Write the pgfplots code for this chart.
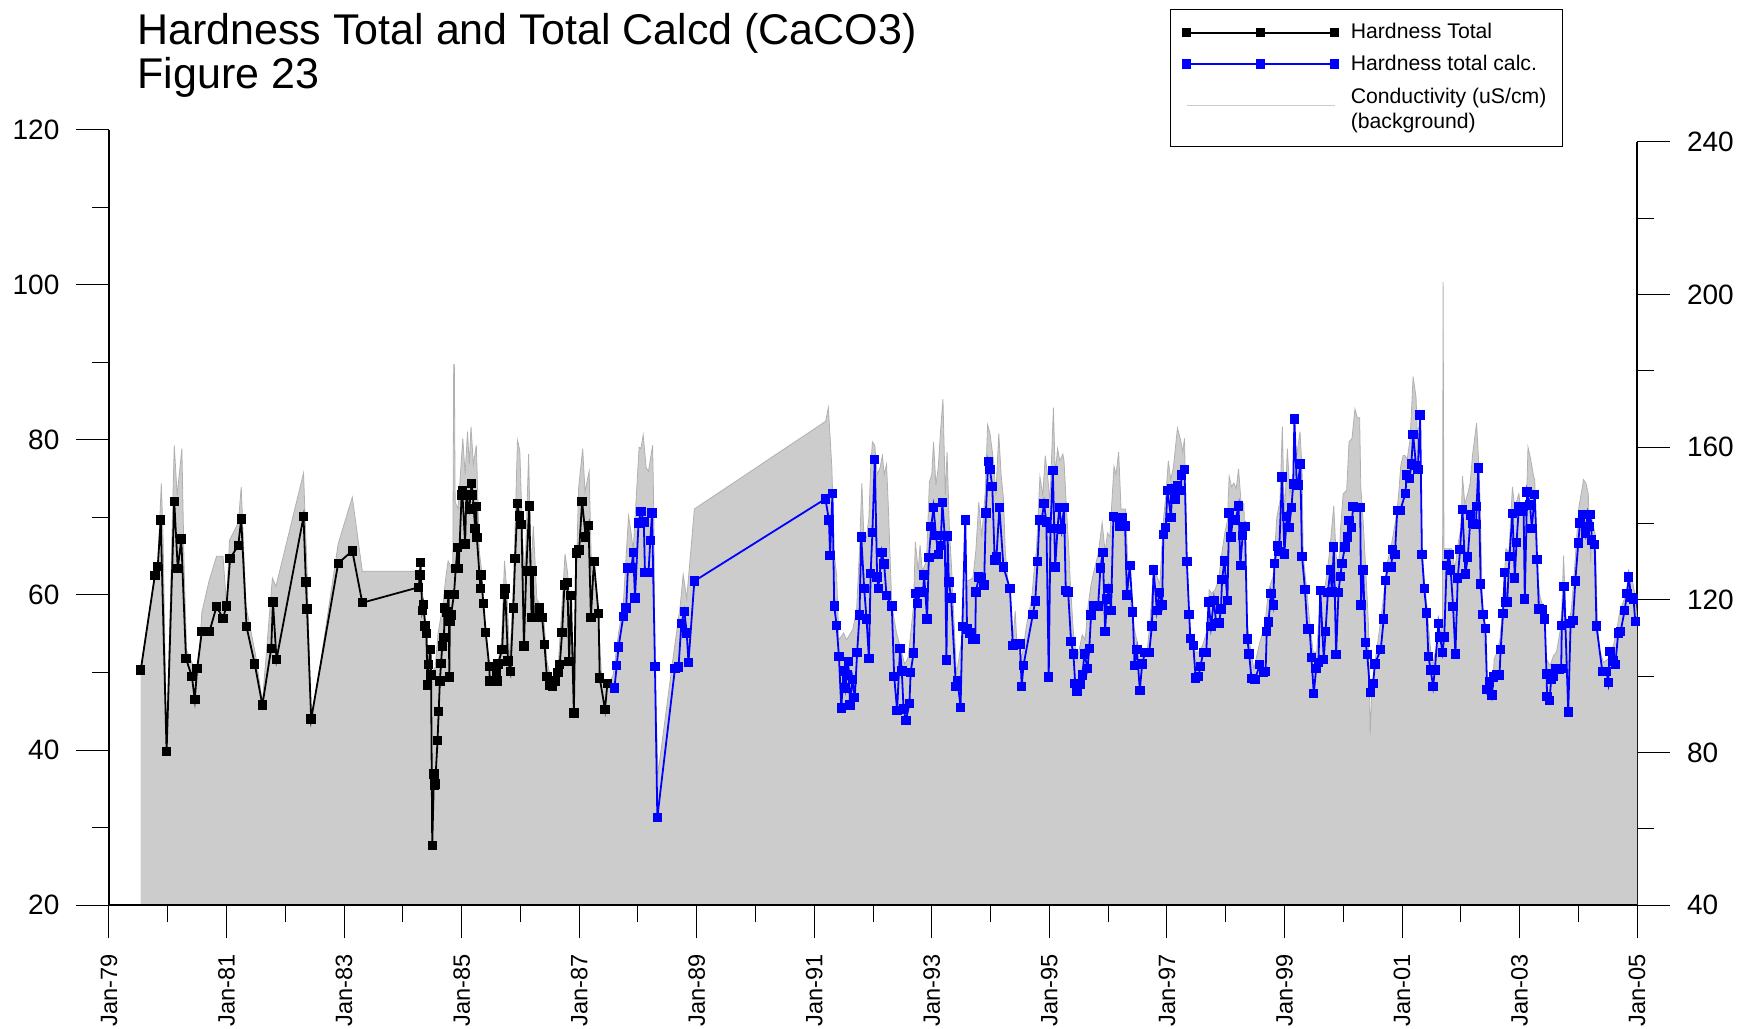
\documentclass[border=0pt]{standalone}
\usepackage{fontspec}
\setmainfont{Liberation Sans}
\usepackage{pgfplots}
\usepackage{pgfplotstable}
\pgfplotsset{compat=1.18}

% conductivity (uS/cm), right axis
\pgfplotstableread{
year cond
1979.54 101.8
1979.78 126.4
1979.83 128.7
1979.89 150.5
1979.92 136.5
1979.98 80.2
1980.11 160.5
1980.16 147.4
1980.24 159.6
1980.28 127.5
1980.32 106.8
1980.42 103.2
1980.47 100.4
1980.53 104.1
1980.58 116.7
1980.70 124.8
1980.83 131.4
1980.94 131.4
1981.00 118.5
1981.05 135.6
1981.20 140.2
1981.25 149.6
1981.33 118.5
1981.50 105.0
1981.61 93.2
1981.78 125.7
1981.84 123.5
1982.31 153.2
1982.37 127.5
1982.44 86.9
1982.90 134.7
1983.14 146.9
1983.31 127.5
1984.235 127.5
1984.29 127.5
1984.35 119.4
1984.41 111.3
1984.46 100.4
1984.55 102.3
1984.60 111.3
1984.68 118.5
1984.73 125.7
1984.77 130.2
1984.85 127.5
1984.865 181.7
1984.876 181.7
1984.89 145.6
1984.94 143.8
1985.02 162.3
1985.06 152.8
1985.10 164.1
1985.13 155.5
1985.16 165.4
1985.20 155.5
1985.25 160.5
1985.27 150.1
1985.30 132.9
1985.34 127.5
1985.40 112.2
1985.45 102.3
1985.60 101.4
1985.68 109.5
1985.73 130.2
1985.77 122.1
1985.82 104.1
1985.89 127.5
1985.95 161.8
1985.99 159.1
1986.04 134.7
1986.08 127.5
1986.14 158.2
1986.18 127.5
1986.22 139.3
1986.28 120.3
1986.39 116.7
1986.45 104.1
1986.53 98.6
1986.65 104.1
1986.76 132.0
1986.80 127.5
1986.84 120.3
1986.91 102.0
1986.99 149.2
1987.06 159.6
1987.10 148.3
1987.17 153.7
1987.21 127.5
1987.29 123.9
1987.38 100.4
1987.44 98.6
1987.50 97.7
1987.58 100.4
1987.67 111.3
1987.75 118.5
1987.84 142.0
1987.88 138.0
1987.92 133.0
1987.99 151.9
1988.02 160.0
1988.05 159.6
1988.09 163.2
1988.14 154.6
1988.18 153.7
1988.25 160.5
1988.27 142.9
1988.29 102.5
1988.34 74.3
1988.60 105.0
1988.72 118.5
1988.77 126.6
1988.83 120.3
1988.89 131.1
1988.96 143.8
1991.195 166.8
1991.24 170.4
1991.30 154.6
1991.34 132.0
1991.38 126.6
1991.42 109.5
1991.50 111.3
1991.55 109.5
1991.655 112.2
1991.72 117.1
1991.77 132.9
1991.81 150.5
1991.85 134.7
1991.89 136.5
1991.93 141.5
1991.96 154.6
1991.99 161.4
1992.03 160.5
1992.07 152.8
1992.12 154.6
1992.16 157.8
1992.19 152.8
1992.23 155.5
1992.26 144.7
1992.32 118.5
1992.40 111.3
1992.54 103.1
1992.60 105.0
1992.69 118.5
1992.72 135.2
1992.77 127.5
1992.80 134.3
1992.84 127.5
1992.91 130.2
1992.96 151.0
1993.00 152.8
1993.03 161.4
1993.07 150.1
1993.11 154.6
1993.15 164.5
1993.19 172.6
1993.23 147.4
1993.26 158.7
1993.30 138.4
1993.34 127.5
1993.42 100.4
1993.51 109.5
1993.59 124.8
1993.70 125.7
1993.75 132.9
1993.80 145.6
1993.85 136.5
1993.91 148.3
1993.95 165.9
1993.99 163.6
1994.05 156.4
1994.09 147.4
1994.14 163.6
1994.18 152.8
1994.22 146.5
1994.25 132.9
1994.29 125.7
1994.34 120.3
1994.38 109.0
1994.42 117.1
1994.445 109.5
1994.53 104.5
1994.61 113.1
1994.70 120.3
1994.74 127.5
1994.78 132.9
1994.84 152.3
1994.89 147.4
1994.93 157.8
1994.97 152.8
1995.01 145.6
1995.07 170.4
1995.10 152.8
1995.14 159.6
1995.18 156.4
1995.23 158.2
1995.25 156.4
1995.28 147.4
1995.33 133.4
1995.36 123.9
1995.41 111.3
1995.47 104.1
1995.56 110.8
1995.61 109.5
1995.66 118.5
1995.71 123.9
1995.76 127.5
1995.83 132.0
1995.90 140.2
1995.95 132.5
1995.99 137.5
1996.03 136.5
1996.10 155.0
1996.135 152.8
1996.18 158.7
1996.22 143.8
1996.30 143.8
1996.33 131.6
1996.37 120.3
1996.46 111.3
1996.515 107.7
1996.60 106.3
1996.66 105.9
1996.71 113.5
1996.78 128.9
1996.83 126.2
1996.88 123.9
1996.94 140.6
1996.985 147.8
1997.025 156.4
1997.065 151.5
1997.11 154.6
1997.18 165.0
1997.235 161.8
1997.27 158.7
1997.30 162.3
1997.34 132.5
1997.39 111.7
1997.48 106.3
1997.55 106.3
1997.61 108.1
1997.68 111.7
1997.72 122.6
1997.76 121.7
1997.82 122.6
1997.88 125.3
1997.93 131.6
1997.99 137.9
1998.03 140.6
1998.06 152.4
1998.10 149.6
1998.14 150.6
1998.18 149.2
1998.22 154.3
1998.26 146.0
1998.31 145.1
1998.37 113.5
1998.415 108.1
1998.48 101.8
1998.53 105.4
1998.585 109.0
1998.67 113.5
1998.73 122.6
1998.81 126.2
1998.87 141.5
1998.925 146.0
1998.965 165.4
1999.00 141.5
1999.05 159.6
1999.095 147.8
1999.14 150.6
1999.18 161.8
1999.21 157.8
1999.265 164.1
1999.30 154.2
1999.32 131.6
1999.38 122.6
1999.435 113.5
1999.49 106.3
1999.55 106.3
1999.62 122.6
1999.66 120.8
1999.72 126.2
1999.775 133.4
1999.84 144.7
1999.88 131.6
1999.92 128.0
1999.96 139.7
2000.00 147.8
2000.06 148.7
2000.10 161.4
2000.15 162.3
2000.20 170.0
2000.24 167.7
2000.28 167.7
2000.30 149.6
2000.34 140.6
2000.39 126.2
2000.43 113.5
2000.46 84.7
2000.49 97.3
2000.54 103.6
2000.63 113.5
2000.68 119.9
2000.75 129.8
2000.81 133.4
2000.85 137.0
2000.90 141.5
2000.94 146.9
2000.98 155.1
2001.02 157.8
2001.05 157.8
2001.09 156.9
2001.14 162.3
2001.19 178.5
2001.24 173.1
2001.28 155.1
2001.32 153.3
2001.34 133.4
2001.39 123.5
2001.43 117.2
2001.48 108.1
2001.52 102.7
2001.59 108.1
2001.65 110.8
2001.69 113.5
2001.70 203.3
2001.715 133.4
2001.76 133.4
2001.85 133.4
2001.90 128.0
2001.96 135.2
2002.005 138.8
2002.03 152.4
2002.07 145.1
2002.12 147.8
2002.16 150.5
2002.20 157.8
2002.27 166.3
2002.30 157.8
2002.33 146.0
2002.37 118.1
2002.40 109.0
2002.45 98.2
2002.53 93.7
2002.57 104.5
2002.62 106.3
2002.67 109.9
2002.71 117.2
2002.77 133.4
2002.82 132.5
2002.88 149.6
2002.92 144.2
2002.99 147.8
2003.03 142.4
2003.08 144.2
2003.11 140.6
2003.145 160.0
2003.19 156.9
2003.24 152.4
2003.26 151.5
2003.30 127.1
2003.35 120.8
2003.42 117.2
2003.46 104.5
2003.52 102.7
2003.58 105.4
2003.63 106.3
2003.69 111.7
2003.72 117.2
2003.75 131.6
2003.79 115.4
2003.83 113.5
2003.88 117.2
2003.92 124.4
2003.96 133.4
2004.01 144.2
2004.06 148.7
2004.09 151.5
2004.13 150.6
2004.17 147.8
2004.21 129.8
2004.24 140.6
2004.29 137.0
2004.325 113.5
2004.37 106.3
2004.43 103.6
2004.51 104.5
2004.60 108.1
2004.65 111.7
2004.71 117.2
2004.80 120.8
2004.85 125.3
2004.91 126.2
2004.97 120.8
2005.00 114.5
}\condtable

% hardness total (measured)
\pgfplotstableread{
year hard
1979.54 50.3
1979.78 62.5
1979.83 63.7
1979.88 69.7
1979.98 39.8
1980.11 72.1
1980.17 63.4
1980.23 67.2
1980.31 51.8
1980.41 49.5
1980.46 46.5
1980.50 50.5
1980.58 55.3
1980.71 55.3
1980.83 58.5
1980.94 57.0
1981.00 58.6
1981.06 64.7
1981.20 66.4
1981.25 69.8
1981.34 55.9
1981.48 51.1
1981.61 45.8
1981.76 53.1
1981.79 59.1
1981.85 51.7
1982.31 70.1
1982.35 61.7
1982.37 58.2
1982.44 44.0
1982.90 64.1
1983.14 65.7
1983.31 59.0
1984.27 61.0
1984.29 62.6
1984.30 64.2
1984.33 58.0
1984.35 58.8
1984.38 56.0
1984.40 55.0
1984.42 48.4
1984.44 51.0
1984.47 53.0
1984.48 49.7
1984.50 27.7
1984.53 36.9
1984.54 35.4
1984.55 35.6
1984.59 41.2
1984.61 45.0
1984.63 48.9
1984.65 51.2
1984.67 53.4
1984.70 54.5
1984.71 58.3
1984.75 57.8
1984.78 60.1
1984.79 49.4
1984.80 56.6
1984.82 57.4
1984.87 60.1
1984.90 63.4
1984.93 66.1
1984.95 63.4
1985.00 72.9
1985.01 73.5
1985.06 66.6
1985.08 72.9
1985.13 71.1
1985.17 74.4
1985.19 72.9
1985.23 68.6
1985.25 71.4
1985.26 67.4
1985.32 60.8
1985.33 62.6
1985.37 58.9
1985.41 55.2
1985.47 50.8
1985.48 48.9
1985.59 50.0
1985.60 48.9
1985.62 51.1
1985.69 53.0
1985.73 60.1
1985.74 60.8
1985.79 51.5
1985.83 50.1
1985.88 58.3
1985.91 64.7
1985.95 71.8
1985.98 70.2
1986.02 69.1
1986.06 53.4
1986.10 63.1
1986.15 71.5
1986.19 57.1
1986.21 63.1
1986.23 57.1
1986.33 58.3
1986.37 57.1
1986.41 53.6
1986.45 49.5
1986.50 48.4
1986.55 48.2
1986.59 48.9
1986.64 50.0
1986.67 51.0
1986.71 55.2
1986.75 61.3
1986.80 61.6
1986.83 51.4
1986.86 59.9
1986.91 44.8
1986.95 65.4
1987.00 65.8
1987.05 72.1
1987.11 67.5
1987.16 69.0
1987.20 57.1
1987.25 64.3
1987.33 57.6
1987.35 49.3
1987.44 45.2
1987.48 48.6
}\hardtable

% hardness total calculated
\pgfplotstableread{
year calc
1987.60 48.0
1987.64 50.9
1987.67 53.3
1987.75 57.2
1987.80 58.3
1987.83 63.5
1987.89 63.5
1987.92 65.5
1987.95 59.6
1988.01 69.3
1988.05 70.8
1988.10 69.4
1988.12 62.9
1988.18 62.9
1988.21 67.0
1988.24 70.6
1988.29 50.8
1988.33 31.3
1988.63 50.5
1988.69 50.7
1988.74 56.3
1988.79 57.9
1988.83 55.1
1988.86 51.3
1988.96 61.8
1991.19 72.4
1991.25 69.7
1991.27 65.1
1991.31 73.1
1991.34 58.6
1991.38 56.1
1991.42 52.1
1991.46 45.4
1991.50 50.2
1991.53 48.0
1991.56 49.7
1991.58 51.4
1991.61 45.8
1991.65 49.1
1991.69 46.8
1991.73 52.6
1991.77 57.4
1991.80 67.5
1991.85 60.8
1991.89 56.9
1991.93 51.8
1991.96 62.8
1991.99 68.1
1992.03 77.5
1992.07 62.3
1992.09 60.8
1992.15 65.5
1992.19 64.0
1992.23 59.9
1992.32 58.6
1992.36 49.5
1992.41 45.1
1992.46 53.1
1992.49 50.2
1992.52 45.3
1992.56 43.8
1992.62 46.0
1992.64 50.0
1992.69 52.5
1992.72 60.2
1992.76 58.9
1992.80 60.4
1992.85 60.3
1992.87 62.6
1992.92 56.9
1992.95 64.8
1992.99 68.8
1993.03 71.3
1993.07 67.7
1993.11 65.2
1993.15 66.4
1993.18 71.9
1993.22 67.7
1993.25 51.6
1993.27 67.6
1993.29 61.7
1993.33 59.6
1993.41 48.2
1993.44 48.9
1993.49 45.5
1993.52 55.9
1993.57 69.7
1993.60 55.6
1993.65 55.1
1993.69 54.3
1993.74 54.3
1993.75 60.4
1993.80 62.3
1993.85 62.2
1993.89 61.3
1993.92 70.6
1993.96 77.2
1993.99 76.2
1994.03 74.0
1994.07 64.5
1994.10 64.9
1994.15 71.3
1994.22 63.6
1994.33 60.8
1994.38 53.5
1994.43 53.7
1994.50 53.7
1994.53 48.2
1994.56 50.9
1994.72 57.5
1994.76 59.2
1994.80 64.3
1994.83 69.7
1994.87 69.7
1994.91 71.8
1994.95 69.4
1994.99 49.4
1995.02 68.6
1995.06 76.1
1995.10 63.6
1995.14 68.6
1995.17 71.3
1995.21 68.5
1995.25 71.3
1995.28 60.6
1995.32 60.4
1995.37 54.0
1995.41 52.4
1995.44 48.6
1995.47 47.6
1995.53 48.5
1995.56 49.7
1995.60 52.4
1995.65 50.5
1995.68 53.1
1995.71 57.4
1995.75 58.6
1995.83 58.6
1995.87 63.5
1995.91 65.5
1995.95 55.3
1995.98 59.5
1996.01 60.8
1996.05 58.0
1996.09 70.1
1996.14 70.0
1996.20 68.8
1996.25 70.0
1996.29 68.9
1996.32 60.0
1996.37 63.8
1996.42 57.8
1996.45 50.9
1996.49 53.0
1996.54 47.7
1996.58 51.1
1996.63 52.6
1996.70 52.6
1996.745 56.0
1996.775 63.2
1996.83 58.0
1996.87 60.3
1996.92 58.7
1996.94 67.8
1996.98 68.7
1997.01 73.5
1997.07 70.0
1997.09 73.7
1997.14 72.4
1997.18 74.1
1997.24 73.5
1997.25 75.5
1997.30 76.2
1997.34 64.3
1997.38 57.5
1997.40 54.4
1997.45 53.5
1997.49 49.3
1997.54 49.5
1997.57 50.8
1997.62 52.6
1997.67 52.6
1997.71 59.1
1997.75 55.9
1997.80 59.3
1997.84 56.3
1997.89 56.4
1997.92 58.2
1997.94 62.0
1997.98 64.4
1998.03 59.3
1998.06 70.6
1998.09 67.5
1998.12 69.7
1998.17 69.7
1998.22 71.5
1998.25 63.8
1998.29 67.7
1998.33 68.8
1998.37 54.3
1998.40 52.4
1998.44 49.2
1998.50 49.1
1998.58 51.0
1998.64 50.0
1998.68 50.1
1998.70 55.3
1998.73 56.5
1998.77 60.2
1998.81 58.7
1998.83 64.1
1998.88 66.3
1998.91 65.6
1998.96 75.2
1999.00 65.3
1999.04 70.1
1999.08 68.7
1999.12 71.3
1999.15 74.3
1999.17 82.7
1999.21 74.2
1999.23 74.2
1999.27 76.9
1999.30 65.0
1999.35 60.7
1999.39 55.6
1999.43 55.6
1999.46 51.9
1999.50 47.3
1999.54 50.5
1999.58 51.3
1999.61 60.6
1999.67 51.7
1999.70 55.3
1999.74 60.3
1999.78 63.2
1999.81 60.4
1999.84 66.2
1999.88 52.3
1999.92 60.3
1999.95 62.4
1999.98 64.1
2000.03 66.2
2000.07 67.5
2000.10 69.6
2000.14 68.7
2000.17 71.4
2000.24 71.3
2000.29 71.3
2000.305 58.7
2000.34 63.2
2000.38 53.9
2000.41 52.3
2000.46 47.4
2000.51 48.6
2000.54 51.1
2000.64 53.0
2000.69 56.9
2000.72 61.9
2000.76 63.6
2000.82 63.6
2000.84 65.9
2000.88 65.2
2000.92 70.9
2000.97 70.9
2001.06 73.1
2001.08 75.5
2001.13 75.0
2001.16 76.9
2001.19 80.7
2001.24 76.7
2001.27 76.2
2001.31 83.2
2001.34 65.2
2001.38 60.8
2001.42 57.7
2001.45 52.1
2001.49 50.3
2001.53 48.2
2001.56 50.3
2001.62 56.3
2001.65 54.6
2001.69 52.6
2001.72 54.6
2001.76 63.8
2001.80 65.2
2001.83 63.2
2001.87 58.5
2001.91 52.4
2001.95 62.2
2001.99 65.9
2002.03 71.0
2002.08 62.7
2002.12 64.9
2002.17 70.3
2002.21 69.2
2002.26 69.1
2002.27 71.4
2002.30 76.4
2002.34 61.4
2002.38 57.5
2002.42 55.7
2002.45 47.8
2002.49 48.8
2002.53 47.1
2002.56 49.4
2002.61 49.7
2002.66 49.7
2002.68 53.0
2002.72 57.6
2002.75 62.9
2002.76 59.1
2002.79 59.1
2002.83 65.0
2002.88 70.5
2002.92 62.2
2002.95 66.8
2002.99 71.4
2003.03 70.8
2003.07 71.4
2003.09 59.5
2003.13 73.3
2003.18 71.6
2003.21 68.6
2003.26 73.0
2003.30 64.6
2003.33 58.2
2003.38 58.1
2003.43 56.9
2003.46 49.8
2003.47 46.9
2003.51 46.4
2003.54 49.1
2003.58 49.5
2003.61 50.5
2003.68 50.4
2003.71 50.5
2003.72 56.1
2003.76 61.1
2003.83 44.9
2003.87 56.3
2003.91 56.7
2003.95 61.8
2004.00 66.7
2004.03 69.3
2004.08 70.4
2004.12 68.0
2004.16 70.4
2004.19 68.8
2004.21 70.4
2004.23 67.1
2004.28 66.5
2004.31 56.0
2004.41 50.1
2004.48 50.1
2004.51 48.7
2004.54 52.7
2004.59 51.5
2004.63 51.0
2004.68 55.1
2004.72 55.3
2004.79 58.0
2004.83 60.2
2004.86 62.3
2004.90 59.7
2004.94 59.5
2004.97 56.6
}\calctable

\pgfplotsset{
  common/.style={
    scale only axis,
    width=764pt,
    xmin=1979, xmax=2005,
    at={(54.5pt,61.5pt)}, anchor=south west,
    tick align=outside,
    major tick length=16.5pt,
    minor tick length=8.5pt,
    every tick/.style={black, line width=0.5pt},
    axis line style={line width=0.6pt, -},
    yticklabel style={font=\fontsize{14}{16}\selectfont},
    xticklabel style={font=\fontsize{11.8}{14}\selectfont},
    /pgf/number format/assume math mode=true,
  },
  threemarks/.style={
    legend image code/.code={%
      \draw[##1, mark repeat=1] plot coordinates {(0pt,0pt) (37pt,0pt) (74pt,0pt)};}
  },
  greyline/.style={
    legend image code/.code={%
      \draw[##1] (0pt,2pt) -- (74pt,2pt);}
  },
}

\begin{document}
\begin{tikzpicture}[x=1pt,y=1pt]
\useasboundingbox (0,0) rectangle (871.5,514);

% right axis: conductivity as grey background
\begin{axis}[common,
  height=381.5pt,
  ymin=40, ymax=240,
  axis x line=none,
  axis y line*=right,
  ytick={40,80,...,240},
  minor ytick={60,100,...,220},
  yticklabel shift=5pt,
]
\addplot[fill=gray!40, draw=none] table[x=year, y=cond] {\condtable} \closedcycle;
\addplot[gray!62, line width=0.4pt] table[x=year, y=cond] {\condtable};
\end{axis}

% left axis: hardness
\begin{axis}[common,
  height=387.5pt,
  ymin=20, ymax=120,
  axis x line*=bottom,
  axis y line*=left,
  ytick={20,40,...,120},
  minor ytick={30,50,...,110},
  yticklabel shift=4.8pt,
  xtick={1979,1981,...,2005},
  minor xtick={1980,1982,...,2004},
  xticklabels={Jan-79,Jan-81,Jan-83,Jan-85,Jan-87,Jan-89,Jan-91,Jan-93,Jan-95,Jan-97,Jan-99,Jan-01,Jan-03,Jan-05},
  xticklabel style={rotate=90, anchor=east},
  xticklabel shift=4.6pt,
  legend style={at={(0.6943,1.156)}, anchor=north west,
    draw=black, line width=0.5pt,
    font=\fontsize{10.6}{12.3}\selectfont,
    inner xsep=6pt, inner ysep=5pt, row sep=2.5pt, column sep=4pt,
    nodes={inner sep=2pt}},
  legend cell align=left,
]
\addplot[black, line width=0.9pt, mark=square*, mark size=2.1pt,
  mark options={solid, line width=0.5pt}, threemarks]
  table[x=year, y=hard] {\hardtable};
\addlegendentry{Hardness Total}
\addplot[blue, line width=0.9pt, mark=square*, mark size=2.1pt,
  mark options={solid, line width=0.5pt}, threemarks]
  table[x=year, y=calc] {\calctable};
\addlegendentry{Hardness total calc.}
\addlegendimage{gray!40, line width=0.6pt, greyline}
\addlegendentry{\begin{tabular}{@{}l@{}}Conductivity (uS/cm)\\(background)\rule[-16.5pt]{0pt}{16.5pt}\end{tabular}}
\end{axis}

\node[anchor=base west, inner sep=0pt, font=\fontsize{21.5}{25}\selectfont]
  at (68.5,491.5) {Hardness Total and Total Calcd (CaCO3)};
\node[anchor=base west, inner sep=0pt, font=\fontsize{21.5}{25}\selectfont]
  at (68.5,469.5) {Figure 23};
\end{tikzpicture}
\end{document}
